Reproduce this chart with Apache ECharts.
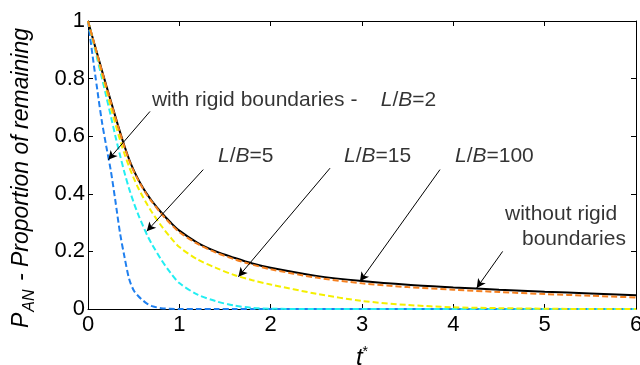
<!DOCTYPE html>
<html>
<head>
<meta charset="utf-8">
<script src="https://cdn.jsdelivr.net/npm/echarts@6/dist/echarts.min.js"></script>
<style>
html,body{margin:0;padding:0;background:#fff;}
#c{width:640px;height:365px;}
</style>
</head>
<body>
<div id="c"></div>
<script>
// time grid (t*)
var tValues = [0,0.05,0.1,0.15,0.2,0.25,0.3,0.35,0.4,0.45,0.5,0.55,0.6,0.65,0.7,0.8,0.9,1.0,1.2,1.4,1.6,1.8,2.0,2.5,3.0,3.5,4.0,4.5,5.0,5.5,6.0];
// without rigid boundaries (black solid)
var noBoundary = [1,0.943,0.887,0.831,0.776,0.722,0.668,0.615,0.565,0.52,0.482,0.45,0.422,0.397,0.375,0.336,0.302,0.272,0.23,0.2,0.178,0.158,0.143,0.115,0.097,0.084,0.075,0.067,0.06,0.054,0.048];
// L/B = 100 (orange dashed)
var lb100 = [1,0.942,0.885,0.829,0.773,0.719,0.665,0.612,0.562,0.517,0.479,0.447,0.419,0.394,0.372,0.332,0.297,0.267,0.226,0.196,0.173,0.154,0.138,0.109,0.089,0.076,0.067,0.059,0.052,0.046,0.04];
// L/B = 15 (yellow dashed)
var lb15 = [1,0.94,0.88,0.82,0.76,0.70,0.642,0.588,0.538,0.494,0.455,0.42,0.39,0.362,0.336,0.29,0.25,0.215,0.172,0.143,0.118,0.1,0.085,0.053,0.028,0.014,0.006,0.003,0.001,0,0];
// L/B = 5 (cyan dashed)
var lb5 = [1,0.935,0.87,0.805,0.738,0.67,0.6,0.535,0.473,0.418,0.37,0.328,0.29,0.255,0.225,0.172,0.127,0.09,0.05,0.027,0.012,0.004,0.001,0,0,0,0,0,0,0,0];
// L/B = 2 (blue dashed)
var lb2 = [1,0.88,0.765,0.655,0.565,0.48,0.375,0.265,0.18,0.105,0.065,0.045,0.03,0.018,0.01,0.003,0.001,0,0,0,0,0,0,0,0,0,0,0,0,0,0];

var xTicks = [0,1,2,3,4,5,6];
var yTicks = [0,0.2,0.4,0.6,0.8,1];

// annotation arrows: [fromT, fromV, toT, toV]
var arrows = [
  [0.679,0.686,0.222,0.518],
  [1.262,0.484,0.643,0.27],
  [2.65,0.489,1.646,0.112],
  [3.854,0.484,2.978,0.096],
  [4.54,0.2,4.256,0.073]
];
// annotation texts: [t, v, text]
var labels = [
  [0.70,0.726,'{n|with rigid boundaries -    }{i|L}{n|/}{i|B}{n|=2}'],
  [1.423,0.53,'{i|L}{n|/}{i|B}{n|=5}'],
  [2.803,0.53,'{i|L}{n|/}{i|B}{n|=15}'],
  [4.018,0.532,'{i|L}{n|/}{i|B}{n|=100}'],
  [4.566,0.328,'{n|without rigid}'],
  [4.752,0.244,'{n|boundaries}']
];

function pairs(vals){ return tValues.map(function(t,i){ return [t, vals[i]]; }); }

var FONT = 'Liberation Sans, Arial, sans-serif';
var rich = {
  n:{fontFamily:FONT,fontSize:21,color:'#000'},
  i:{fontFamily:FONT,fontSize:21,color:'#000',fontStyle:'italic'}
};

function dashed(name, vals, color){
  return {name:name,type:'line',data:pairs(vals),smooth:0.3,showSymbol:false,symbol:'none',
    lineStyle:{color:color,width:2,type:[6,3]},z:3,animation:false};
}

var chart = echarts.init(document.getElementById('c'), null, {renderer:'canvas'});
var option = {
  animation:false,
  backgroundColor:'#fff',
  grid:{left:88,right:4,top:21,bottom:56,outerBoundsMode:'none',containLabel:false},
  xAxis:[{
    type:'value',min:0,max:6,interval:1,position:'bottom',
    axisLine:{show:true,onZero:false,lineStyle:{color:'#000',width:1}},
    axisTick:{show:true,inside:true,length:5,lineStyle:{color:'#000'}},
    axisLabel:{color:'#000',fontFamily:FONT,fontSize:22,margin:5,
      formatter:function(v){return xTicks.indexOf(v)>=0?String(v):'';}},
    splitLine:{show:false},
    name:'{t|t}{s|*}',nameLocation:'middle',nameGap:36,
    nameTextStyle:{rich:{t:{fontFamily:FONT,fontSize:24,fontStyle:'italic',color:'#000'},
      s:{fontFamily:FONT,fontSize:14,color:'#000',verticalAlign:'top',padding:[0,0,12,0]}}}
  },{
    type:'value',min:0,max:6,interval:1,position:'top',
    axisLine:{show:true,onZero:false,lineStyle:{color:'#000',width:1}},
    axisTick:{show:true,inside:true,length:5,lineStyle:{color:'#000'}},
    axisLabel:{show:false},splitLine:{show:false}
  }],
  yAxis:[{
    type:'value',min:0,max:1,interval:0.2,position:'left',
    axisLine:{show:true,onZero:false,lineStyle:{color:'#000',width:1}},
    axisTick:{show:true,inside:true,length:5,lineStyle:{color:'#000'}},
    axisLabel:{color:'#000',fontFamily:FONT,fontSize:22,margin:3,
      formatter:function(v){var r=Math.round(v*10)/10; return r===0?'0':(r===1?'1':String(r));}},
    splitLine:{show:false},
    name:'{i|P}{sub|AN}{i| - Proportion of remaining}',nameLocation:'middle',nameGap:50,
    nameTextStyle:{padding:[0,26,0,0],rich:{
      i:{fontFamily:FONT,fontSize:23,fontStyle:'italic',color:'#000',lineHeight:32,verticalAlign:'middle'},
      sub:{fontFamily:FONT,fontSize:16,fontStyle:'italic',color:'#000',lineHeight:32,verticalAlign:'bottom',padding:[0,2,0,1]}
    }}
  },{
    type:'value',min:0,max:1,interval:0.2,position:'right',
    axisLine:{show:true,onZero:false,lineStyle:{color:'#000',width:1}},
    axisTick:{show:true,inside:true,length:5,lineStyle:{color:'#000'}},
    axisLabel:{show:false},splitLine:{show:false}
  }],
  series:[
    {name:'without rigid boundaries',type:'line',data:pairs(noBoundary),smooth:0.3,showSymbol:false,symbol:'none',
      lineStyle:{color:'#000',width:2},z:2,animation:false},
    dashed('L/B=2', lb2, '#1f7fef'),
    dashed('L/B=5', lb5, '#22eef2'),
    dashed('L/B=15', lb15, '#f4ef00'),
    dashed('L/B=100', lb100, '#f58020'),
    {name:'annotations',type:'scatter',symbolSize:0,z:10,silent:true,
      data:labels.map(function(l){return {value:[l[0],l[1]],label:{formatter:l[2]}};}),
      label:{show:true,position:'inside',align:'left',verticalAlign:'middle',rich:rich},
      markLine:{silent:true,symbol:['none','arrow'],symbolSize:[7,9],animation:false,
        lineStyle:{color:'#000',width:1,type:'solid'},label:{show:false},
        data:arrows.map(function(a){return [{coord:[a[0],a[1]]},{coord:[a[2],a[3]]}];})}
    }
  ]
};
chart.setOption(option);
</script>
</body>
</html>
